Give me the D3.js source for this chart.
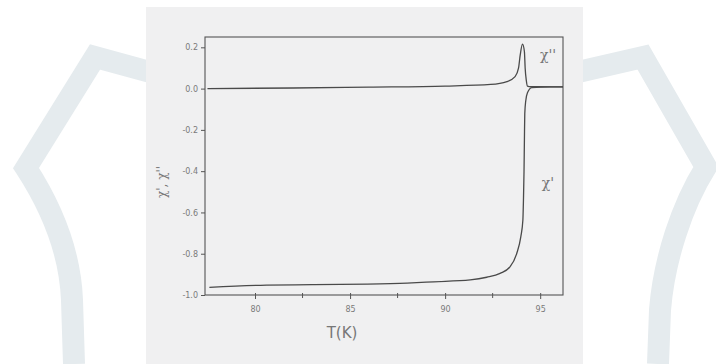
<!DOCTYPE html>
<html>
<head>
<meta charset="utf-8">
<script src="https://cdn.jsdelivr.net/npm/d3@7"></script>
<style>
  html, body { margin: 0; padding: 0; background: #fff; }
  svg { display: block; }
</style>
</head>
<body>
<div id="chart"></div>
<script>
// chi' (real part) vs temperature
const tReal = [77.6, 80.6, 83, 85.9, 88, 89.4, 91.32, 92.19, 92.89, 93.42, 93.77, 93.98, 94.09, 94.12, 94.15, 94.17, 94.19, 94.24, 94.33, 94.56, 95.5, 96.2];
const chiReal = [-0.963, -0.952, -0.95, -0.947, -0.942, -0.936, -0.927, -0.914, -0.895, -0.863, -0.798, -0.718, -0.637, -0.54, -0.4, -0.25, -0.12, -0.06, -0.02, 0.005, 0.008, 0.008];
// chi'' (imaginary part)
const tImag = [77.5, 82, 86, 90, 92.4, 93.25, 93.68, 93.86, 93.95, 94.07, 94.17, 94.21, 94.27, 94.33, 94.5, 94.85, 96.2];
const chiImag = [0, 0.003, 0.007, 0.012, 0.02, 0.034, 0.058, 0.099, 0.163, 0.215, 0.179, 0.099, 0.04, 0.012, 0.009, 0.009, 0.008];

const xTicks = [80, 85, 90, 95];
const xMinor = [82.5, 87.5, 92.5];
const yTicks = [0.2, 0, -0.2, -0.4, -0.6, -0.8, -1.0];
const yTickLabels = ['0.2', '0.0', '-0.2', '-0.4', '-0.6', '-0.8', '-1.0'];

const W = 716, H = 364;
const m = { left: 205, right: 153, top: 37, bottom: 69 };
const ink = '#555';

const svg = d3.select('#chart').append('svg').attr('width', W).attr('height', H);

// faint watermark bands behind the scan
const wm = svg.append('g').attr('fill', 'none').attr('stroke', '#e5ebee')
  .attr('stroke-width', 22).attr('stroke-linejoin', 'miter');
wm.append('path').attr('d', 'M150,72 L95,57 L26,168 C50,205 70,250 72,300 L74,364');
wm.append('path').attr('d', 'M578,72 L643,57 L706,167 C682,205 664,260 660,310 L658,364');

// scanned page
svg.append('rect').attr('x', 146).attr('y', 7).attr('width', 437).attr('height', 357).attr('fill', '#f0f0f1');

const x = d3.scaleLinear().domain([77.37, 96.2]).range([m.left, W - m.right]);
const y = d3.scaleLinear().domain([-1.0, 0.25]).range([H - m.bottom, m.top]);

const g = svg.append('g');

// frame
g.append('rect')
  .attr('x', x.range()[0]).attr('y', y.range()[1])
  .attr('width', x.range()[1] - x.range()[0]).attr('height', y.range()[0] - y.range()[1])
  .attr('fill', 'none').attr('stroke', ink).attr('stroke-width', 1.1);

// y axis
const yAxis = g.append('g').attr('transform', `translate(${m.left},0)`)
  .call(d3.axisLeft(y).tickValues(yTicks).tickSize(4).tickPadding(3)
    .tickFormat((d, i) => yTickLabels[i]));
yAxis.select('.domain').remove();
yAxis.selectAll('line').attr('stroke', ink);
yAxis.selectAll('text').attr('fill', '#7a7a7a').attr('font-size', 8).attr('font-family', 'DejaVu Sans');

// x axis
const xAxis = g.append('g').attr('transform', `translate(0,${H - m.bottom})`)
  .call(d3.axisBottom(x).tickValues(xTicks).tickSize(4).tickPadding(7));
xAxis.select('.domain').remove();
xAxis.selectAll('line').attr('stroke', ink).attr('y1', -2);
xAxis.selectAll('text').attr('fill', '#7a7a7a').attr('font-size', 8).attr('font-family', 'DejaVu Sans');
g.append('g').selectAll('line').data(xMinor).join('line')
  .attr('x1', d => x(d)).attr('x2', d => x(d))
  .attr('y1', H - m.bottom - 2).attr('y2', H - m.bottom + 3)
  .attr('stroke', ink);

// curves
const line = d3.line().curve(d3.curveMonotoneX).x(d => x(d[0])).y(d => y(d[1]));
g.append('path').datum(d3.zip(tReal, chiReal)).attr('d', line)
  .attr('fill', 'none').attr('stroke', '#4a4a4a').attr('stroke-width', 1.3);
g.append('path').datum(d3.zip(tImag, chiImag)).attr('d', line)
  .attr('fill', 'none').attr('stroke', '#4a4a4a').attr('stroke-width', 1.3);

// labels
const serif = 'DejaVu Serif';
g.append('text').attr('x', 548).attr('y', 60).attr('font-size', 14).attr('text-anchor', 'middle')
  .attr('fill', '#777').attr('font-family', serif).text('χ\'\'');
g.append('text').attr('x', 548).attr('y', 188).attr('font-size', 14).attr('text-anchor', 'middle')
  .attr('fill', '#777').attr('font-family', serif).text('χ\'');
g.append('text').attr('transform', 'translate(166,182) rotate(-90)').attr('font-size', 12).attr('text-anchor', 'middle')
  .attr('fill', '#777').attr('font-family', serif).text('χ\', χ\'\'');
g.append('text').attr('x', 342).attr('y', 338).attr('font-size', 15).attr('text-anchor', 'middle')
  .attr('fill', '#777').attr('font-family', 'DejaVu Sans').text('T(K)');
</script>
</body>
</html>
